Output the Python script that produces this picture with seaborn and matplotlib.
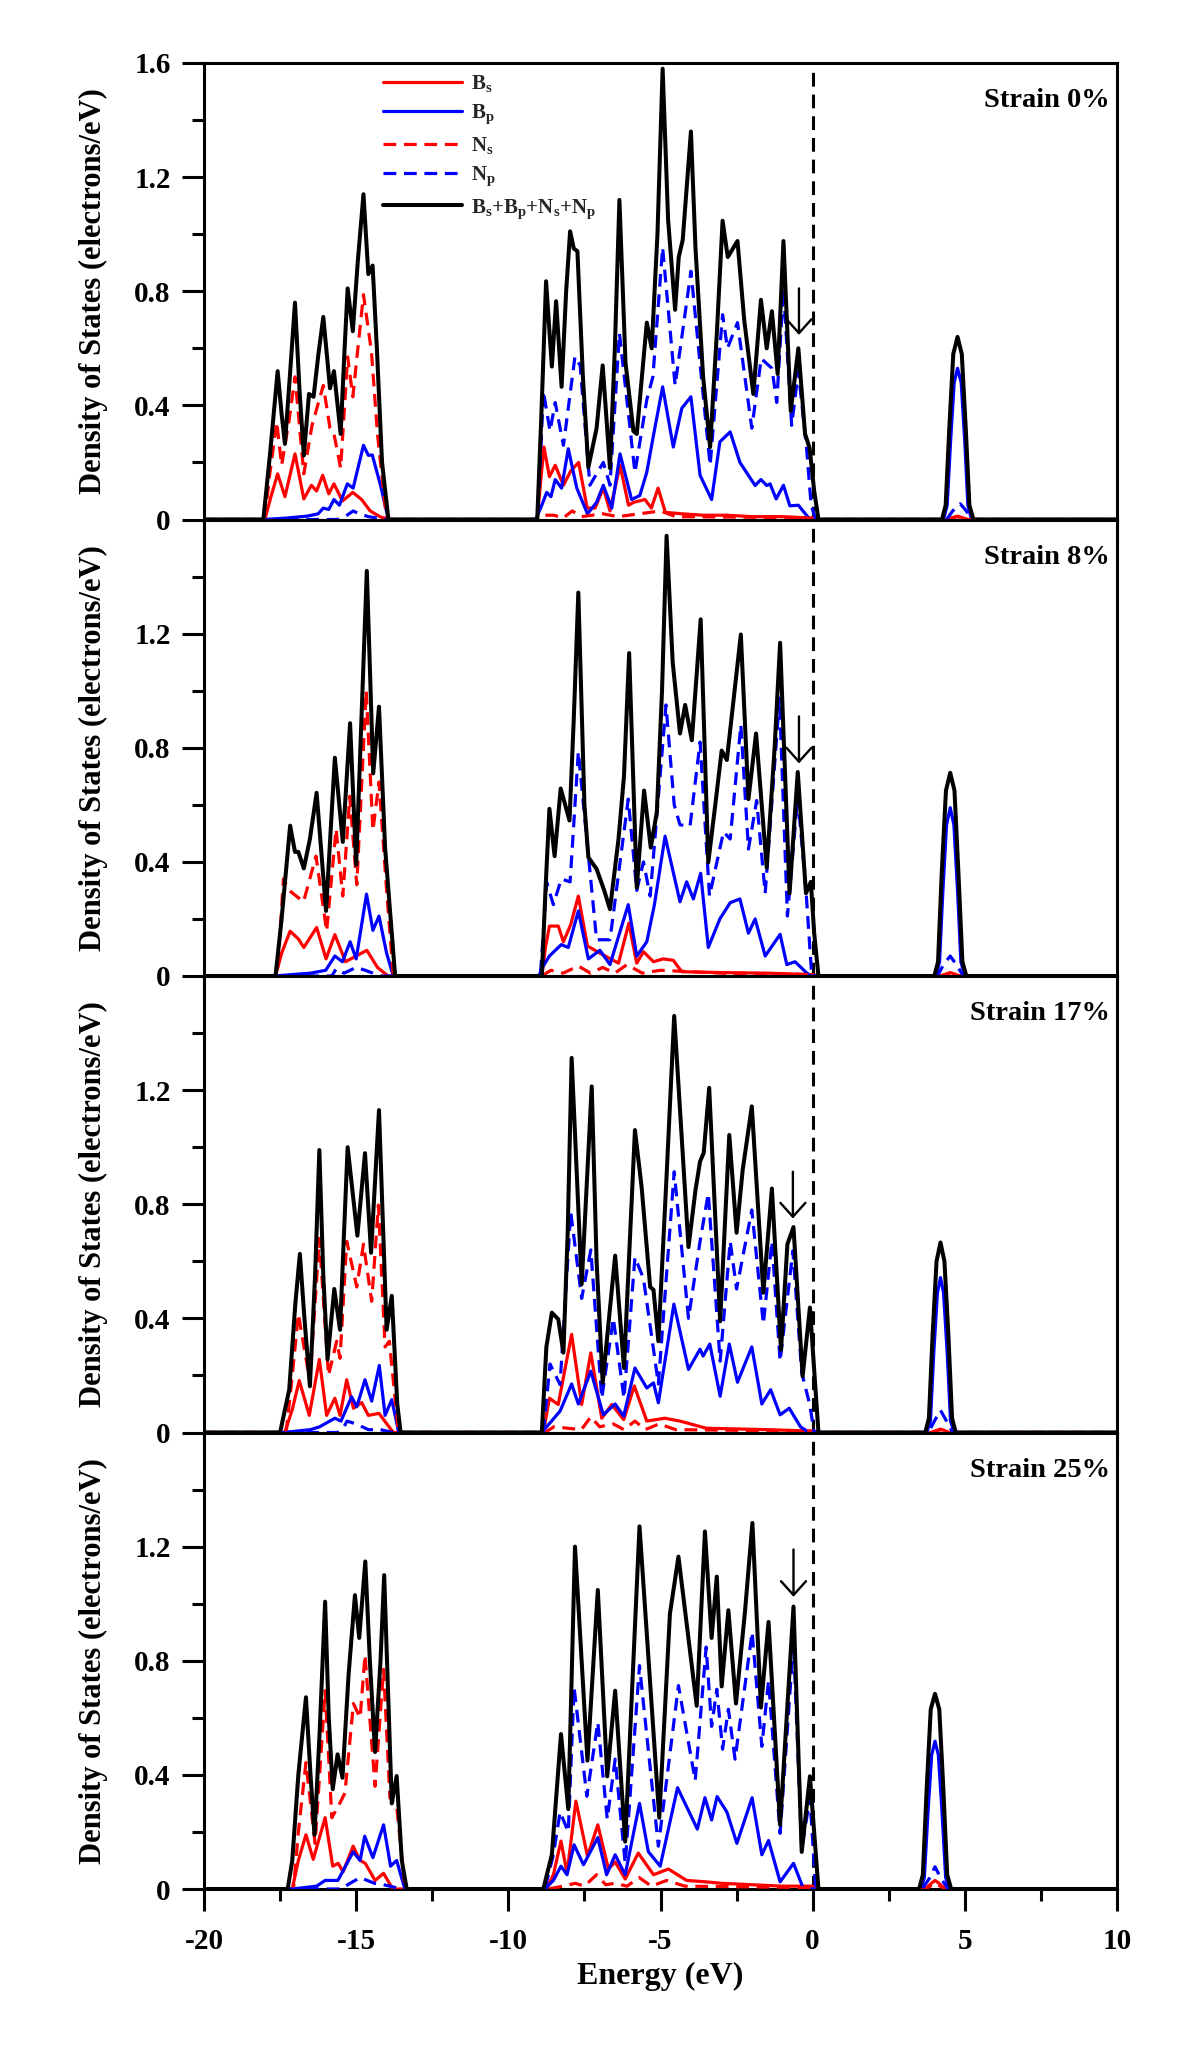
import matplotlib
matplotlib.use('Agg')
import matplotlib.pyplot as plt
import pandas as pd
import seaborn as sns
from matplotlib.ticker import FixedLocator, FixedFormatter

sns.set_theme(style='ticks')
plt.rcParams['font.family'] = ['Liberation Serif', 'DejaVu Serif']
plt.rcParams['font.weight'] = 'bold'
plt.rcParams['axes.labelweight'] = 'bold'
plt.rcParams['mathtext.fontset'] = 'custom'
plt.rcParams['mathtext.rm'] = 'Liberation Serif:bold'
plt.rcParams['mathtext.bf'] = 'Liberation Serif:bold'
plt.rcParams['mathtext.it'] = 'Liberation Serif:bold:italic'
plt.rcParams['axes.unicode_minus'] = False

# ---------------- data (energy eV, DOS electrons/eV) ----------------
STRAIN_LABELS = ['Strain 0%', 'Strain 8%', 'Strain 17%', 'Strain 25%']
SERIES_NAMES = [r'$\mathbf{B_s}$', r'$\mathbf{B_p}$', r'$\mathbf{N_s}$', r'$\mathbf{N_p}$',
                r'$\mathbf{B_s{+}B_p{+}N_s{+}N_p}$']
X_TICKS = [-20, -15, -10, -5, 0, 5, 10]
X_TICK_LABELS = ['-20', '-15', '-10', '-5', '0', '5', '10']
Y_TICKS_TOP = [0, 0.4, 0.8, 1.2, 1.6]
Y_TICK_LABELS_TOP = ['0', '0.4', '0.8', '1.2', '1.6']
Y_TICKS = [0, 0.4, 0.8, 1.2]
Y_TICK_LABELS = ['0', '0.4', '0.8', '1.2']

ARROW_E = [-0.45, -0.45, -0.65, -0.63]
ARROW_TIP = [0.647, 0.745, 0.75, 1.024]
ARROW_TAIL = [0.81, 0.91, 0.914, 1.19]

# ---- Strain 0% ----
S0_BS = [(-20, 0), (-18.0, 0), (-17.8, 0.08), (-17.58, 0.16), (-17.34, 0.08), (-17.01, 0.23), (-16.72, 0.072),
         (-16.47, 0.12), (-16.3, 0.1), (-16.1, 0.155), (-15.9, 0.09), (-15.73, 0.125), (-15.45, 0.065),
         (-15.11, 0.095), (-14.82, 0.07), (-14.54, 0.03), (-14.22, 0.01), (-13.95, 0),
         (-9.05, 0), (-8.95, 0.12), (-8.83, 0.254), (-8.65, 0.15), (-8.46, 0.19), (-8.19, 0.12), (-7.95, 0.17),
         (-7.69, 0.2), (-7.41, 0.04), (-7.15, 0.04), (-6.88, 0.11), (-6.66, 0.03), (-6.33, 0.19), (-6.05, 0.05),
         (-5.89, 0.06), (-5.51, 0.07), (-5.3, 0.04), (-5.08, 0.11), (-4.84, 0.025), (-4.3, 0.02), (-3.6, 0.015),
         (-2.8, 0.015), (-2.0, 0.01), (-1.0, 0.01), (0.0, 0.005), (0.2, 0),
         (4.4, 0), (4.76, 0.012), (5.1, 0), (10, 0)]
S0_BP = [(-20, 0), (-18.0, 0), (-17.3, 0.005), (-16.6, 0.012), (-16.25, 0.02), (-16.08, 0.04), (-15.9, 0.035),
         (-15.73, 0.07), (-15.55, 0.05), (-15.29, 0.125), (-15.1, 0.11), (-14.76, 0.26), (-14.6, 0.225),
         (-14.47, 0.226), (-14.2, 0.12), (-13.94, 0),
         (-9.1, 0), (-8.9, 0.05), (-8.74, 0.095), (-8.6, 0.08), (-8.46, 0.14), (-8.25, 0.11), (-8.03, 0.248),
         (-7.75, 0.11), (-7.4, 0.02), (-7.1, 0.06), (-6.88, 0.12), (-6.6, 0.04), (-6.33, 0.23), (-5.95, 0.07),
         (-5.68, 0.084), (-5.45, 0.166), (-5.25, 0.284), (-4.93, 0.465), (-4.58, 0.254), (-4.3, 0.39),
         (-4.0, 0.43), (-3.7, 0.155), (-3.32, 0.07), (-3.05, 0.272), (-2.71, 0.307), (-2.39, 0.2), (-1.89, 0.119),
         (-1.7, 0.14), (-1.51, 0.119), (-1.4, 0.125), (-1.2, 0.072), (-0.96, 0.12), (-0.75, 0.048), (-0.47, 0.05),
         (-0.09, 0),
         (4.3, 0), (4.42, 0.05), (4.53, 0.27), (4.65, 0.48), (4.76, 0.53), (4.88, 0.48), (5.0, 0.27), (5.1, 0.05),
         (5.22, 0), (10, 0)]
S0_NS = [(-20, 0), (-18.0, 0), (-17.85, 0.15), (-17.61, 0.342), (-17.45, 0.19), (-17.2, 0.35), (-17.01, 0.5),
         (-16.72, 0.16), (-16.45, 0.33), (-16.08, 0.47), (-15.86, 0.32), (-15.73, 0.3), (-15.51, 0.18),
         (-15.28, 0.57), (-15.11, 0.43), (-14.76, 0.788), (-14.5, 0.59), (-14.3, 0.3), (-14.0, 0),
         (-9.0, 0), (-8.8, 0.015), (-8.5, 0.015), (-8.2, 0.005), (-7.9, 0.03), (-7.6, 0.01), (-6.9, 0.02),
         (-6.4, 0.01), (-5.0, 0.03), (-4.5, 0.01), (-2.0, 0.008), (0.0, 0.005), (0.2, 0),
         (4.4, 0), (4.76, 0.01), (5.1, 0), (10, 0)]
S0_NP = [(-20, 0), (-15.6, 0), (-15.3, 0.015), (-15.1, 0.03), (-14.9, 0.02), (-14.6, 0.01), (-14.0, 0),
         (-9.05, 0), (-8.95, 0.2), (-8.85, 0.45), (-8.63, 0.31), (-8.46, 0.41), (-8.19, 0.26), (-7.81, 0.571),
         (-7.64, 0.54), (-7.32, 0.12), (-6.88, 0.2), (-6.66, 0.12), (-6.35, 0.653), (-5.84, 0.165), (-5.45, 0.42),
         (-5.25, 0.5), (-4.93, 0.953), (-4.52, 0.47), (-4.0, 0.87), (-3.37, 0.19), (-2.96, 0.718), (-2.8, 0.6),
         (-2.47, 0.69), (-2.0, 0.32), (-1.69, 0.564), (-1.34, 0.53), (-1.18, 0.41), (-0.96, 0.81), (-0.69, 0.33),
         (-0.47, 0.52), (-0.2, 0.25), (-0.05, 0.05), (0.1, 0),
         (4.4, 0), (4.6, 0.03), (4.85, 0.055), (5.05, 0.03), (5.2, 0), (10, 0)]
S0_TOT = [(-20, 0), (-18.05, 0), (-17.83, 0.23), (-17.58, 0.52), (-17.45, 0.37), (-17.34, 0.265), (-17.18, 0.5),
          (-17.01, 0.76), (-16.86, 0.45), (-16.72, 0.224), (-16.55, 0.44), (-16.4, 0.43), (-16.24, 0.58),
          (-16.08, 0.71), (-15.86, 0.46), (-15.73, 0.52), (-15.51, 0.30), (-15.38, 0.6), (-15.28, 0.81),
          (-15.11, 0.66), (-14.95, 0.9), (-14.76, 1.14), (-14.6, 0.86), (-14.46, 0.89), (-14.32, 0.6),
          (-14.15, 0.2), (-13.94, 0),
          (-9.05, 0), (-8.92, 0.35), (-8.76, 0.835), (-8.57, 0.536), (-8.43, 0.765), (-8.25, 0.465), (-8.1, 0.8),
          (-7.97, 1.01), (-7.85, 0.95), (-7.73, 0.94), (-7.55, 0.5), (-7.37, 0.183), (-7.1, 0.32), (-6.9, 0.54),
          (-6.66, 0.18), (-6.5, 0.6), (-6.35, 1.12), (-6.15, 0.55), (-5.89, 0.31), (-5.78, 0.3), (-5.45, 0.69),
          (-5.29, 0.60), (-5.1, 1.0), (-4.93, 1.58), (-4.75, 1.05), (-4.52, 0.735), (-4.4, 0.92), (-4.27, 0.98),
          (-4.0, 1.36), (-3.85, 0.95), (-3.6, 0.5), (-3.37, 0.254), (-3.15, 0.65), (-2.96, 1.047), (-2.79, 0.92),
          (-2.47, 0.976), (-2.25, 0.7), (-1.95, 0.44), (-1.7, 0.77), (-1.51, 0.6), (-1.34, 0.73), (-1.15, 0.51),
          (-0.96, 0.976), (-0.72, 0.38), (-0.47, 0.6), (-0.25, 0.3), (-0.1, 0.25), (0.05, 0.1), (0.19, 0),
          (4.25, 0), (4.37, 0.05), (4.49, 0.32), (4.62, 0.58), (4.76, 0.64), (4.9, 0.58), (5.03, 0.32),
          (5.15, 0.05), (5.28, 0), (10, 0)]

# ---- Strain 8% ----
S8_BS = [(-20, 0), (-17.65, 0), (-17.45, 0.08), (-17.17, 0.157), (-16.9, 0.13), (-16.72, 0.1), (-16.3, 0.17),
         (-15.99, 0.06), (-15.7, 0.145), (-15.35, 0.05), (-15.0, 0.07), (-14.65, 0.09), (-14.3, 0.03), (-13.95, 0),
         (-8.9, 0), (-8.78, 0.1), (-8.65, 0.175), (-8.36, 0.175), (-8.19, 0.12), (-7.95, 0.18), (-7.7, 0.28),
         (-7.4, 0.105), (-7.15, 0.09), (-6.99, 0.08), (-6.38, 0.045), (-6.04, 0.185), (-5.78, 0.045),
         (-5.56, 0.085), (-5.23, 0.05), (-4.91, 0.06), (-4.58, 0.055), (-4.3, 0.015), (-3.0, 0.012),
         (-1.5, 0.01), (0.0, 0.005), (0.2, 0),
         (4.2, 0), (4.52, 0.012), (4.85, 0), (10, 0)]
S8_BP = [(-20, 0), (-17.7, 0), (-16.5, 0.01), (-16.0, 0.02), (-15.7, 0.07), (-15.45, 0.05), (-15.2, 0.12),
         (-15.0, 0.06), (-14.66, 0.287), (-14.45, 0.16), (-14.25, 0.21), (-14.0, 0.08), (-13.78, 0),
         (-9.0, 0), (-8.88, 0.03), (-8.65, 0.07), (-8.26, 0.11), (-8.03, 0.1), (-7.7, 0.228), (-7.37, 0.06),
         (-6.99, 0.09), (-6.66, 0.04), (-6.06, 0.25), (-5.78, 0.07), (-5.45, 0.12), (-5.2, 0.25), (-4.85, 0.49),
         (-4.36, 0.26), (-4.14, 0.33), (-3.92, 0.27), (-3.68, 0.36), (-3.43, 0.1), (-3.05, 0.2), (-2.71, 0.257),
         (-2.39, 0.27), (-2.11, 0.15), (-1.89, 0.2), (-1.56, 0.07), (-1.07, 0.146), (-0.85, 0.04), (-0.58, 0.05),
         (-0.09, 0),
         (4.05, 0), (4.17, 0.05), (4.28, 0.3), (4.4, 0.53), (4.52, 0.59), (4.64, 0.53), (4.76, 0.3), (4.87, 0.05),
         (5.0, 0), (10, 0)]
S8_NS = [(-20, 0), (-17.6, 0), (-17.5, 0.15), (-17.39, 0.34), (-17.2, 0.3), (-16.73, 0.26), (-16.32, 0.42),
         (-15.97, 0.157), (-15.66, 0.516), (-15.44, 0.28), (-15.21, 0.63), (-14.98, 0.32), (-14.67, 1.0),
         (-14.45, 0.51), (-14.25, 0.68), (-14.0, 0.3), (-13.78, 0),
         (-8.9, 0), (-8.6, 0.02), (-8.2, 0.01), (-7.7, 0.035), (-7.3, 0.01), (-6.9, 0.03), (-6.5, 0.01),
         (-6.1, 0.04), (-5.6, 0.01), (-5.0, 0.02), (-3.0, 0.01), (0.0, 0.005), (0.2, 0),
         (4.2, 0), (4.52, 0.01), (4.85, 0), (10, 0)]
S8_NP = [(-20, 0), (-15.8, 0), (-15.66, 0.025), (-15.4, 0.01), (-15.0, 0.03), (-14.7, 0.02), (-14.2, 0),
         (-8.95, 0), (-8.85, 0.15), (-8.74, 0.328), (-8.52, 0.25), (-8.26, 0.34), (-7.97, 0.33), (-7.7, 0.786),
         (-7.1, 0.127), (-6.66, 0.127), (-6.06, 0.62), (-5.78, 0.3), (-5.56, 0.4), (-5.34, 0.28), (-4.82, 0.95),
         (-4.55, 0.6), (-4.36, 0.53), (-4.03, 0.525), (-3.7, 0.82), (-3.39, 0.28), (-2.93, 0.505), (-2.71, 0.48),
         (-2.36, 0.88), (-2.11, 0.445), (-1.84, 0.615), (-1.56, 0.29), (-1.09, 0.974), (-0.83, 0.21),
         (-0.49, 0.63), (-0.22, 0.3), (-0.03, 0),
         (4.1, 0), (4.3, 0.04), (4.52, 0.07), (4.72, 0.04), (4.95, 0), (10, 0)]
S8_TOT = [(-20, 0), (-17.65, 0), (-17.45, 0.2), (-17.17, 0.527), (-17.01, 0.435), (-16.9, 0.435), (-16.72, 0.377),
          (-16.52, 0.48), (-16.3, 0.642), (-15.99, 0.228), (-15.7, 0.765), (-15.44, 0.47), (-15.2, 0.886),
          (-15.0, 0.39), (-14.65, 1.42), (-14.44, 0.71), (-14.25, 0.944), (-14.05, 0.45), (-13.72, 0),
          (-8.9, 0), (-8.78, 0.3), (-8.65, 0.586), (-8.48, 0.42), (-8.28, 0.657), (-7.99, 0.545), (-7.85, 0.9),
          (-7.7, 1.344), (-7.5, 0.6), (-7.37, 0.416), (-7.1, 0.375), (-6.85, 0.3), (-6.66, 0.234), (-6.38, 0.48),
          (-6.2, 0.7), (-6.03, 1.132), (-5.78, 0.31), (-5.54, 0.65), (-5.32, 0.45), (-5.12, 0.575), (-4.95, 1.0),
          (-4.8, 1.543), (-4.6, 1.1), (-4.36, 0.85), (-4.19, 0.95), (-3.97, 0.826), (-3.68, 1.25), (-3.43, 0.398),
          (-3.2, 0.6), (-2.99, 0.79), (-2.82, 0.757), (-2.36, 1.197), (-2.11, 0.62), (-1.86, 0.85), (-1.51, 0.38),
          (-1.25, 0.8), (-1.07, 1.168), (-0.76, 0.29), (-0.49, 0.715), (-0.22, 0.29), (-0.06, 0.33), (0.05, 0.15),
          (0.19, 0),
          (4.0, 0), (4.12, 0.05), (4.24, 0.36), (4.38, 0.65), (4.52, 0.712), (4.66, 0.65), (4.79, 0.36),
          (4.92, 0.05), (5.05, 0), (10, 0)]

# ---- Strain 17% ----
S17_BS = [(-20, 0), (-17.35, 0), (-17.1, 0.08), (-16.87, 0.182), (-16.54, 0.06), (-16.21, 0.256), (-15.97, 0.06),
          (-15.7, 0.12), (-15.53, 0.06), (-15.31, 0.185), (-15.09, 0.085), (-14.82, 0.105), (-14.6, 0.06),
          (-14.25, 0.067), (-13.78, 0),
          (-8.85, 0), (-8.65, 0.12), (-8.36, 0.098), (-7.92, 0.344), (-7.59, 0.098), (-7.29, 0.279), (-6.93, 0.05),
          (-6.6, 0.098), (-6.21, 0.045), (-5.86, 0.163), (-5.45, 0.04), (-4.86, 0.05), (-4.36, 0.04),
          (-3.5, 0.015), (-1.5, 0.01), (0.0, 0.005), (0.2, 0),
          (3.9, 0), (4.2, 0.012), (4.5, 0), (10, 0)]
S17_BP = [(-20, 0), (-17.4, 0), (-16.5, 0.01), (-16.2, 0.02), (-15.7, 0.05), (-15.5, 0.04), (-15.15, 0.125),
          (-14.98, 0.09), (-14.71, 0.185), (-14.49, 0.11), (-14.24, 0.235), (-14.05, 0.06), (-13.83, 0.115),
          (-13.6, 0),
          (-8.9, 0), (-8.74, 0.02), (-8.3, 0.075), (-7.92, 0.17), (-7.7, 0.1), (-7.29, 0.215), (-6.88, 0.062),
          (-6.49, 0.1), (-6.21, 0.057), (-5.84, 0.226), (-5.45, 0.156), (-5.23, 0.174), (-5.07, 0.104),
          (-4.56, 0.45), (-4.08, 0.221), (-3.7, 0.292), (-3.6, 0.268), (-3.38, 0.31), (-3.04, 0.127),
          (-2.74, 0.31), (-2.47, 0.176), (-2.0, 0.3), (-1.67, 0.1), (-1.38, 0.15), (-1.07, 0.062), (-0.77, 0.085),
          (-0.4, 0.02), (-0.12, 0),
          (3.75, 0), (3.87, 0.04), (3.98, 0.28), (4.1, 0.49), (4.2, 0.543), (4.3, 0.49), (4.42, 0.28), (4.53, 0.04),
          (4.65, 0), (10, 0)]
S17_NS = [(-20, 0), (-17.3, 0), (-17.1, 0.2), (-16.9, 0.415), (-16.52, 0.18), (-16.21, 0.68), (-15.91, 0.2),
          (-15.64, 0.32), (-15.53, 0.26), (-15.31, 0.67), (-14.98, 0.51), (-14.76, 0.66), (-14.49, 0.46),
          (-14.27, 0.797), (-14.05, 0.3), (-13.91, 0.32), (-13.61, 0),
          (-8.8, 0), (-8.5, 0.02), (-7.6, 0.01), (-7.29, 0.055), (-7.0, 0.02), (-6.55, 0.03), (-6.2, 0.01),
          (-5.84, 0.04), (-5.5, 0.01), (-5.05, 0.03), (-4.5, 0.01), (0.0, 0.005), (0.2, 0),
          (3.9, 0), (4.2, 0.01), (4.5, 0), (10, 0)]
S17_NP = [(-20, 0), (-15.6, 0), (-15.4, 0.02), (-15.3, 0.04), (-15.0, 0.03), (-14.6, 0.01), (-14.2, 0.01),
          (-13.8, 0),
          (-8.85, 0), (-8.63, 0.24), (-8.3, 0.168), (-7.95, 0.773), (-7.59, 0.47), (-7.29, 0.64), (-6.93, 0.12),
          (-6.55, 0.4), (-6.2, 0.12), (-5.84, 0.614), (-5.56, 0.54), (-5.07, 0.17), (-4.55, 0.914), (-4.08, 0.4),
          (-3.7, 0.67), (-3.43, 0.838), (-3.04, 0.25), (-2.71, 0.67), (-2.5, 0.503), (-2.0, 0.78), (-1.62, 0.38),
          (-1.34, 0.67), (-1.07, 0.25), (-0.65, 0.637), (-0.36, 0.21), (-0.1, 0.1), (0.05, 0),
          (3.8, 0), (4.0, 0.04), (4.2, 0.078), (4.4, 0.04), (4.6, 0), (10, 0)]
S17_TOT = [(-20, 0), (-17.5, 0), (-17.2, 0.15), (-17.0, 0.45), (-16.85, 0.626), (-16.7, 0.4), (-16.52, 0.162),
           (-16.35, 0.55), (-16.21, 0.99), (-16.08, 0.55), (-15.94, 0.256), (-15.72, 0.503), (-15.53, 0.36),
           (-15.4, 0.7), (-15.28, 1.0), (-14.96, 0.69), (-14.71, 0.979), (-14.51, 0.63), (-14.25, 1.13),
           (-14.0, 0.36), (-13.83, 0.479), (-13.65, 0.1), (-13.54, 0),
           (-8.9, 0), (-8.75, 0.3), (-8.57, 0.42), (-8.36, 0.397), (-8.19, 0.28), (-8.05, 0.7), (-7.92, 1.313),
           (-7.59, 0.52), (-7.26, 1.213), (-7.1, 0.6), (-6.9, 0.174), (-6.49, 0.62), (-6.2, 0.226), (-5.84, 1.06),
           (-5.62, 0.86), (-5.34, 0.51), (-5.23, 0.5), (-5.07, 0.32), (-4.8, 0.9), (-4.55, 1.46), (-4.08, 0.65),
           (-3.85, 0.85), (-3.7, 0.95), (-3.58, 0.98), (-3.4, 1.208), (-3.04, 0.39), (-2.74, 1.043), (-2.5, 0.70),
           (-2.3, 0.92), (-2.0, 1.143), (-1.62, 0.49), (-1.34, 0.855), (-1.04, 0.29), (-0.83, 0.66), (-0.63, 0.72),
           (-0.33, 0.197), (-0.09, 0.438), (0.19, 0),
           (3.7, 0), (3.82, 0.05), (3.94, 0.34), (4.07, 0.6), (4.2, 0.666), (4.33, 0.6), (4.46, 0.34), (4.58, 0.05),
           (4.7, 0), (10, 0)]

# ---- Strain 25% ----
S25_BS = [(-20, 0), (-17.1, 0), (-16.9, 0.1), (-16.65, 0.19), (-16.41, 0.104), (-16.02, 0.25), (-15.77, 0.08),
          (-15.59, 0.09), (-15.43, 0.06), (-15.1, 0.15), (-14.87, 0.1), (-14.7, 0.09), (-14.38, 0.03),
          (-14.1, 0.055), (-13.8, 0),
          (-8.75, 0), (-8.52, 0.05), (-8.27, 0.168), (-8.07, 0.055), (-7.78, 0.308), (-7.4, 0.115), (-7.06, 0.225),
          (-6.71, 0.07), (-6.49, 0.095), (-6.16, 0.035), (-5.73, 0.126), (-5.23, 0.05), (-4.74, 0.07),
          (-4.14, 0.03), (-3.5, 0.025), (-3.0, 0.02), (-2.0, 0.015), (-1.0, 0.01), (0.0, 0.01), (0.2, 0),
          (3.7, 0), (3.9, 0.02), (4.02, 0.03), (4.15, 0.02), (4.35, 0), (10, 0)]
S25_BP = [(-20, 0), (-17.1, 0), (-16.3, 0.01), (-16.02, 0.03), (-15.6, 0.03), (-15.1, 0.13), (-14.87, 0.1),
          (-14.72, 0.185), (-14.45, 0.11), (-14.1, 0.225), (-13.87, 0.08), (-13.67, 0.1), (-13.4, 0),
          (-8.8, 0), (-8.52, 0.03), (-8.27, 0.08), (-8.07, 0.05), (-7.84, 0.155), (-7.53, 0.085), (-7.06, 0.18),
          (-6.77, 0.05), (-6.49, 0.12), (-6.16, 0.05), (-5.69, 0.3), (-5.4, 0.131), (-5.01, 0.08), (-4.44, 0.355),
          (-3.79, 0.21), (-3.54, 0.32), (-3.32, 0.242), (-3.14, 0.324), (-2.82, 0.27), (-2.49, 0.16),
          (-1.99, 0.32), (-1.67, 0.12), (-1.45, 0.17), (-1.07, 0.025), (-0.63, 0.09), (-0.3, 0),
          (3.55, 0), (3.67, 0.04), (3.79, 0.27), (3.91, 0.47), (4.02, 0.518), (4.13, 0.47), (4.25, 0.27),
          (4.37, 0.04), (4.5, 0), (10, 0)]
S25_NS = [(-20, 0), (-17.06, 0), (-16.9, 0.2), (-16.65, 0.443), (-16.35, 0.16), (-16.02, 0.695), (-15.8, 0.25),
          (-15.59, 0.29), (-15.37, 0.336), (-15.09, 0.65), (-14.87, 0.6), (-14.71, 0.82), (-14.38, 0.36),
          (-14.1, 0.77), (-13.89, 0.32), (-13.67, 0.29), (-13.39, 0),
          (-8.7, 0), (-8.2, 0.01), (-7.8, 0.02), (-7.5, 0.01), (-7.1, 0.05), (-6.8, 0.015), (-6.5, 0.02),
          (-6.1, 0.01), (-5.7, 0.04), (-5.3, 0.01), (-4.8, 0.03), (-4.2, 0.01), (0.0, 0.005), (0.2, 0),
          (3.7, 0), (4.02, 0.02), (4.35, 0), (10, 0)]
S25_NP = [(-20, 0), (-15.5, 0), (-15.2, 0.02), (-14.87, 0.04), (-14.4, 0.02), (-14.1, 0.015), (-13.5, 0),
          (-8.8, 0), (-8.52, 0.12), (-8.3, 0.27), (-8.03, 0.2), (-7.84, 0.707), (-7.42, 0.325), (-7.06, 0.584),
          (-6.75, 0.245), (-6.49, 0.455), (-6.16, 0.09), (-5.69, 0.783), (-5.07, 0.15), (-4.41, 0.713),
          (-3.86, 0.38), (-3.5, 0.848), (-3.32, 0.57), (-3.15, 0.7), (-2.96, 0.49), (-2.77, 0.63), (-2.55, 0.455),
          (-1.99, 0.9), (-1.67, 0.5), (-1.45, 0.73), (-1.07, 0.195), (-0.63, 0.866), (-0.36, 0.14), (-0.09, 0.32),
          (0.1, 0),
          (3.6, 0), (3.85, 0.04), (4.02, 0.078), (4.2, 0.04), (4.45, 0), (10, 0)]
S25_TOT = [(-20, 0), (-17.25, 0), (-17.1, 0.1), (-16.9, 0.4), (-16.65, 0.672), (-16.5, 0.4), (-16.37, 0.19),
           (-16.2, 0.55), (-16.02, 1.007), (-15.9, 0.6), (-15.77, 0.35), (-15.61, 0.472), (-15.45, 0.39),
           (-15.25, 0.75), (-15.04, 1.03), (-14.9, 0.88), (-14.7, 1.148), (-14.55, 0.8), (-14.38, 0.48),
           (-14.2, 0.8), (-14.08, 1.1), (-13.83, 0.3), (-13.67, 0.396), (-13.5, 0.1), (-13.34, 0),
           (-8.85, 0), (-8.57, 0.12), (-8.27, 0.543), (-8.03, 0.28), (-7.81, 1.2), (-7.4, 0.45), (-7.06, 1.048),
           (-6.75, 0.395), (-6.49, 0.695), (-6.16, 0.166), (-5.69, 1.271), (-5.04, 0.25), (-4.69, 0.965),
           (-4.41, 1.165), (-3.81, 0.642), (-3.54, 1.253), (-3.32, 0.88), (-3.15, 1.095), (-2.99, 0.71),
           (-2.77, 0.977), (-2.52, 0.65), (-2.22, 0.977), (-1.98, 1.283), (-1.7, 0.636), (-1.45, 0.936),
           (-1.07, 0.225), (-0.63, 0.99), (-0.36, 0.13), (-0.09, 0.395), (0.19, 0),
           (3.5, 0), (3.62, 0.05), (3.75, 0.36), (3.88, 0.63), (4.02, 0.684), (4.16, 0.63), (4.29, 0.36),
           (4.42, 0.05), (4.55, 0), (10, 0)]

PANELS = [
    [S0_BS, S0_BP, S0_NS, S0_NP, S0_TOT],
    [S8_BS, S8_BP, S8_NS, S8_NP, S8_TOT],
    [S17_BS, S17_BP, S17_NS, S17_NP, S17_TOT],
    [S25_BS, S25_BP, S25_NS, S25_NP, S25_TOT],
]

# ---------------- styling ----------------
COLORS = ['#ff0000', '#0000ff', '#ff0000', '#0000ff', '#000000']
DASH = (0, (4.0, 2.4))
STYLES = ['-', '-', DASH, DASH, '-']
WIDTHS = [2.3, 2.3, 2.3, 2.3, 2.9]

W, Hpx = 1200, 2067
LEFT_PX, RIGHT_PX = 204, 1117
TOP_PX, BOT_PX = 63, 1889
PH = (BOT_PX - TOP_PX) / 4.0

fig = plt.figure(figsize=(W / 100, Hpx / 100), dpi=100)
fig.patch.set_facecolor('white')

for i in range(4):
    top = TOP_PX + i * PH
    ax = fig.add_axes([LEFT_PX / W, 1 - (top + PH) / Hpx, (RIGHT_PX - LEFT_PX) / W, PH / Hpx])
    ax.set_facecolor('white')
    handles = []
    for k, pts in enumerate(PANELS[i]):
        df = pd.DataFrame(pts, columns=['Energy', 'DOS'])
        sns.lineplot(data=df, x='Energy', y='DOS', ax=ax, color=COLORS[k], linewidth=WIDTHS[k],
                     linestyle=STYLES[k], estimator=None, sort=False, legend=False,
                     solid_joinstyle='round', solid_capstyle='round', zorder=3 + k)
        handles.append(ax.lines[-1])
    ax.axvline(0, color='black', lw=2.2, linestyle=(0, (4.5, 2.6)), zorder=2)
    ax.annotate('', xy=(ARROW_E[i], ARROW_TIP[i]), xytext=(ARROW_E[i], ARROW_TAIL[i]),
                arrowprops=dict(arrowstyle='->,head_length=0.5,head_width=0.45', lw=1.7, color='black',
                                shrinkA=0, shrinkB=0, mutation_scale=20), zorder=10)
    ax.set_xlim(-20, 10)
    ax.set_ylim(0, 1.6)
    ax.xaxis.set_major_locator(FixedLocator(X_TICKS))
    ax.xaxis.set_minor_locator(FixedLocator([-17.5, -12.5, -7.5, -2.5, 2.5, 7.5]))
    if i == 0:
        ax.yaxis.set_major_locator(FixedLocator(Y_TICKS_TOP))
        ax.yaxis.set_major_formatter(FixedFormatter(Y_TICK_LABELS_TOP))
    else:
        ax.yaxis.set_major_locator(FixedLocator(Y_TICKS))
        ax.yaxis.set_major_formatter(FixedFormatter(Y_TICK_LABELS))
    ax.yaxis.set_minor_locator(FixedLocator([0.2, 0.6, 1.0, 1.4]))
    ax.xaxis.set_major_formatter(FixedFormatter(X_TICK_LABELS))
    ax.tick_params(axis='both', which='major', direction='out', length=16, width=2.2,
                   labelsize=21, pad=8, color='black', labelcolor='black')
    ax.tick_params(axis='both', which='minor', direction='out', length=8.5, width=2.2, color='black')
    ax.tick_params(axis='x', which='major', pad=12)
    ax.tick_params(top=False, right=False, which='both')
    if i < 3:
        ax.tick_params(axis='x', labelbottom=False)
        ax.set_xlabel('')
    else:
        ax.set_xlabel('Energy (eV)', fontsize=23, fontweight='bold', color='black')
        ax.xaxis.set_label_coords(0.5, -0.16)
    for lab in ax.get_xticklabels() + ax.get_yticklabels():
        lab.set_fontweight('bold')
    for sp in ax.spines.values():
        sp.set_visible(True)
        sp.set_linewidth(2.2)
        sp.set_color('black')
    ax.set_ylabel('Density of States (electrons/eV)', fontsize=22, fontweight='bold', color='black')
    ax.yaxis.set_label_coords(-0.105, 0.5)
    ax.text(0.992, 0.945, STRAIN_LABELS[i], transform=ax.transAxes, ha='right', va='top',
            fontsize=20.5, fontweight='bold', color='black')
    if i == 0:
        ax.legend(handles=handles, labels=SERIES_NAMES, loc='upper left', bbox_to_anchor=(0.196, 0.978),
                  frameon=False, fontsize=15, handlelength=3.8, handletextpad=0.45, labelspacing=0.42,
                  borderpad=0, borderaxespad=0)

fig.savefig('out.png', dpi=100, facecolor='white')
